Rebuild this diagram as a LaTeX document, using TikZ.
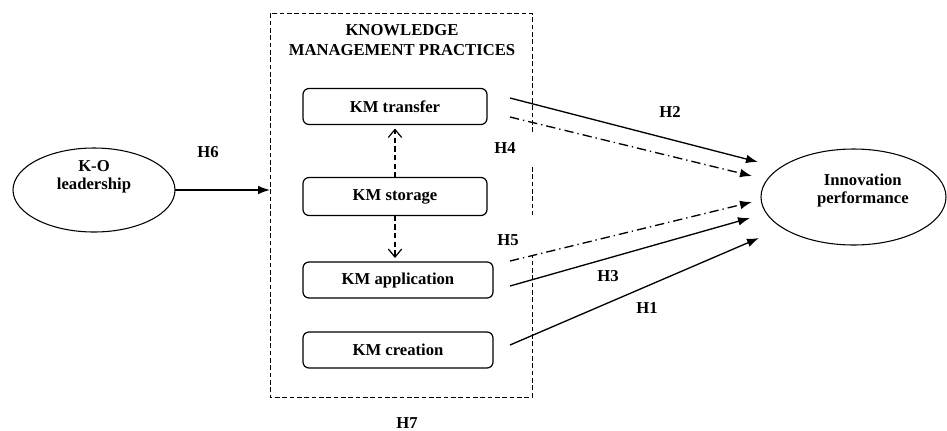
\documentclass[tikz,border=0pt]{standalone}
\usepackage{fontspec}
\setmainfont{Liberation Serif}
\usetikzlibrary{positioning, arrows.meta, shapes.geometric}
\newcommand{\hfont}{\fontsize{12.5}{15}\selectfont\bfseries}
\tikzset{kmbox/.style={draw, line width=0.9pt, rounded corners=4.5pt, inner sep=0pt, outer sep=0pt, minimum height=27pt}}
\tikzset{oval/.style={draw, ellipse, line width=0.8pt, inner sep=0pt, outer sep=0pt}}
\tikzset{ovaltext/.style={align=center, font=\fontsize{12.5}{14}\selectfont\bfseries}}
\tikzset{frame/.style={draw, line width=0.7pt, dash pattern=on 3.5pt off 2pt}}
\tikzset{harr/.style={draw, line width=1pt, -{Latex[length=9pt, width=6.5pt]}}}
\tikzset{hdash/.style={harr, dash pattern=on 7pt off 3pt on 1pt off 3pt}}
\tikzset{sarr/.style={draw, line width=0.9pt, dash pattern=on 4pt off 2.5pt, -{Straight Barb[length=6pt, width=10pt]}, shorten >=3pt}}

\begin{document}
\begin{tikzpicture}[x=0.75pt, y=-0.75pt, every node/.style={font=\hfont}]
	\useasboundingbox (0,0) rectangle (947,430);
	% practices frame, open where H4 and H5 stand
	\draw[frame] (532,132) -- (532,13) -- (270,13) -- (270,397) -- (532,397) -- (532,255);
	\draw[frame] (532,167) -- (532,215);
	\node[align=center] (kmp) at (402,40) {KNOWLEDGE\\MANAGEMENT PRACTICES};
	%
	\node[kmbox, minimum width=138pt] (trans) at (395,106.5) {KM transfer};
	\node[kmbox, minimum width=138pt, minimum height=28.5pt] (stor) at (395,196.5) {KM storage};
	\node[kmbox, minimum width=142.5pt] (appl) at (398,280) {KM application};
	\node[kmbox, minimum width=142.5pt] (creat) at (398,350) {KM creation};
	%
	\node[oval, minimum width=121.5pt, minimum height=63pt,
		label={[ovaltext, yshift=10pt]center:K-O\\leadership}] (kol) at (94,190) {};
	\node[oval, minimum width=138.75pt, minimum height=72pt,
		label={[ovaltext, xshift=7pt, yshift=5pt]center:Innovation\\performance}] (innov) at (853.5,197) {};
	\coordinate (kmleft) at (270,190);
	%
	\draw[sarr] (stor.north) -- (trans.south);
	\draw[sarr] (stor.south) -- (stor.south |- appl.north);
	%
	\draw[harr] (kol) -- (kmleft);
	\draw[harr] ([shift={(23,-8.5)}]trans.east) -- ([shift={(-3,-35)}]innov.west);
	\draw[hdash] ([shift={(23,10.5)}]trans.east) -- ([shift={(-9,-21)}]innov.west);
	\draw[hdash] ([shift={(17,-19)}]appl.east) -- ([shift={(-9,5)}]innov.west);
	\draw[harr] ([shift={(17,6)}]appl.east) -- ([shift={(-11,21)}]innov.west);
	\draw[harr] ([shift={(17,-5)}]creat.east) -- ([shift={(-2,41)}]innov.west);
	%
	\node (h6) at (208,152) {H6};
	\node (h2) at (670,112) {H2};
	\node (h4) at (505,148) {H4};
	\node (h5) at (508,240) {H5};
	\node (h3) at (608,276) {H3};
	\node (h1) at (647,308) {H1};
	\node (h7) at (407,423) {H7};
\end{tikzpicture}
\end{document}
